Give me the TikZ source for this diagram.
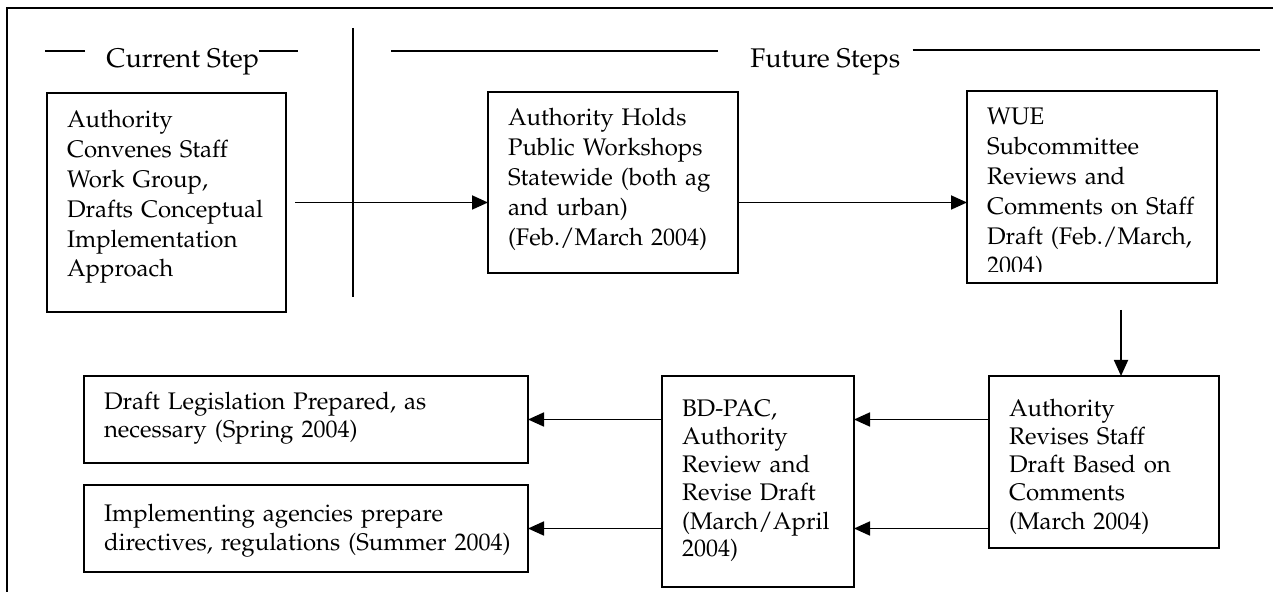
\documentclass[tikz,border=0pt]{standalone}
\usepackage[T1]{fontenc}
\usepackage{mathpazo}
\usetikzlibrary{arrows.meta}
\newcommand{\steplines}[1]{\begin{tabular}[t]{@{}l@{}}#1\end{tabular}}
\tikzset{
    stepbox/.style={draw, line width=0.9pt, anchor=north west, align=left,
        inner xsep=10pt, inner ysep=0pt, outer sep=0pt,
        font=\fontsize{12}{14.9}\selectfont},
    lowbox/.style={stepbox, font=\fontsize{12}{14}\selectfont},
    flow/.style={line width=0.9pt, -{Triangle[length=8pt,width=7pt]}},
    rule/.style={line width=0.9pt},
    heading/.style={anchor=base west, inner sep=0pt, font=\fontsize{13.5}{16}\selectfont}
}
\begin{document}
\begin{tikzpicture}[x=0.5pt,y=-0.5pt]
    \useasboundingbox (0,0) rectangle (1273,592);
    \draw[rule] (7,600) |- (1290,8);

    % headings
    \node[heading] (current) at (106,68) {Current Step};
    \draw[rule] ([xshift=-10.5pt,yshift=8.5pt]current.base west) -- ++(-40,0);
    \draw[rule] ([yshift=8.5pt]current.base east) -- ++(39,0);
    \node[heading] (future) at (750,68) {Future Steps};
    \draw[rule] ([xshift=-16pt,yshift=8.5pt]future.base west) -- ++(-327,0);
    \draw[rule] ([xshift=6pt,yshift=9pt]future.base east) -- ++(347,0);
    \draw[rule] (353,28) -- (353,297);

    % top row
    \node[stepbox, text width=99.5pt, text height=17.5pt, text depth=92pt] (convene) at (47,93)
        {\steplines{Authority\\ Convenes Staff\\ Work Group,\\ Drafts Conceptual\\ Implementation\\ Approach}};
    \node[stepbox, text width=105pt, text height=17pt, text depth=73.5pt] (holds) at (488,92)
        {\steplines{Authority Holds\\ Public Workshops\\ Statewide (both ag\\ and urban)\\ (Feb./March 2004)}};
    \node[stepbox, text width=105pt, text height=17pt, text depth=79pt] (wue) at (967,91) {};
    \begin{scope}
        \clip (wue.north west) rectangle ([yshift=5.5pt]wue.south east);
        \node[stepbox, draw=none, text width=105pt, text height=17pt, text depth=79pt] (wuetext) at (wue.north west)
            {\steplines{WUE\\ Subcommittee\\ Reviews and\\ Comments on Staff\\ Draft (Feb./March,\\ 2004)}};
    \end{scope}

    % bottom row
    \node[lowbox, text width=95pt, text height=20.5pt, text depth=65.5pt] (revise) at (989,376)
        {\steplines{Authority\\ Revises Staff\\ Draft Based on\\ Comments\\ (March 2004)}};
    \node[lowbox, text width=76pt, text height=20.5pt, text depth=85pt] (bdpac) at (662,376)
        {\steplines{BD-PAC,\\ Authority\\ Review and\\ Revise Draft\\ (March/April\\ 2004)}};
    \node[lowbox, text width=202pt, text height=17pt, text depth=26.5pt] (legis) at (84,376)
        {\steplines{Draft Legislation Prepared, as\\ necessary (Spring 2004)}};
    \node[lowbox, text width=202pt, text height=18.5pt, text depth=25pt] (implem) at (84,485)
        {\steplines{Implementing agencies prepare\\ directives, regulations (Summer 2004)}};

    \draw[flow] ([xshift=4.5pt]convene.east) -- (convene.east -| holds.west);
    \draw[flow] (holds.east |- convene.east) -- (convene.east -| wue.west);
    \draw[flow] ([xshift=8.5pt]revise.north) ++(0,-66) -- ++(0,66);

    \foreach \row in {legis,implem} {
    \draw[flow] (\row.east -| revise.west) -- (\row.east -| bdpac.east);
    \draw[flow] (\row.east -| bdpac.west) -- (\row.east);
    }
\end{tikzpicture}
\end{document}
